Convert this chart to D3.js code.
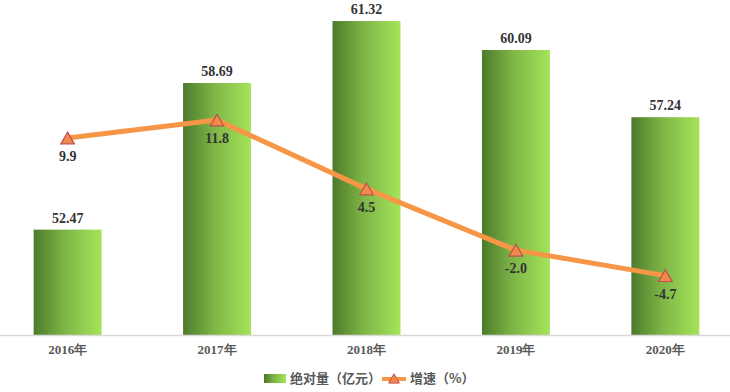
<!DOCTYPE html>
<html><head><meta charset="utf-8">
<script src="https://cdn.jsdelivr.net/npm/d3@7"></script>
<style>body{margin:0;background:#fff}svg{display:block}</style>
</head><body>
<svg id="c" width="730" height="392"></svg>
<script>
const years = ["2016年","2017年","2018年","2019年","2020年"];
const amount = [52.47, 58.69, 61.32, 60.09, 57.24];
const growth = [9.9, 11.8, 4.5, -2.0, -4.7];
const legendLabels = ["绝对量（亿元）","增速（%）"];

(function(){
const svg = d3.select("#c");
const W = 730, plotTop = 5, plotBottom = 335;
const x = d3.scaleBand().domain(years).range([-7, 740]).paddingInner(0.545).paddingOuter(0.272);
const y = d3.scaleLinear().domain([48, 62]).range([plotBottom, plotTop]);
const y2 = d3.scaleLinear().domain([-11, 24]).range([plotBottom, plotTop]);

const defs = svg.append("defs");
const g = defs.append("linearGradient").attr("id","bg").attr("x1","0").attr("x2","1").attr("y1","0").attr("y2","0");
g.append("stop").attr("offset","0%").attr("stop-color","#4d7a2b");
g.append("stop").attr("offset","45%").attr("stop-color","#7db546");
g.append("stop").attr("offset","100%").attr("stop-color","#a5e45a");

svg.selectAll("rect.bar").data(amount).join("rect").attr("class","bar")
  .attr("x",(d,i)=>x(years[i])).attr("width",x.bandwidth())
  .attr("y",d=>y(d)).attr("height",d=>plotBottom-y(d)).attr("fill","url(#bg)");

svg.append("line").attr("x1",0).attr("x2",W).attr("y1",plotBottom+0.5).attr("y2",plotBottom+0.5)
  .attr("stroke","#d9d9d9").attr("stroke-width",1.5);

const xa = svg.append("g").attr("transform",`translate(0,${plotBottom})`)
  .call(d3.axisBottom(x).tickSize(0).tickPadding(10));
xa.select(".domain").remove();
xa.selectAll("text").attr("font-family","'Liberation Serif','Times New Roman',serif")
  .attr("font-size",13).attr("font-weight","bold").attr("fill","#595959");

svg.selectAll("text.bl").data(amount).join("text").attr("class","bl")
  .attr("x",(d,i)=>x(years[i])+x.bandwidth()/2).attr("y",d=>y(d)-7)
  .attr("text-anchor","middle").attr("font-family","'Liberation Serif','Times New Roman',serif")
  .attr("font-size",14).attr("font-weight","bold").attr("fill","#333")
  .text(d=>d.toFixed(2));

const cx = (i)=>x(years[i])+x.bandwidth()/2;
const line = d3.line().x((d,i)=>cx(i)).y(d=>y2(d));
svg.append("path").datum(growth).attr("d",line).attr("fill","none")
  .attr("stroke","#f79646").attr("stroke-width",5).attr("stroke-linejoin","round");

const tri = d3.symbol().type(d3.symbolTriangle).size(80);
svg.selectAll("path.m").data(growth).join("path").attr("class","m")
  .attr("transform",(d,i)=>`translate(${cx(i)},${y2(d)+2})`).attr("d",tri)
  .attr("fill","#f08a4b").attr("stroke","#c0504d").attr("stroke-width",1.2);

svg.selectAll("text.gl").data(growth).join("text").attr("class","gl")
  .attr("x",(d,i)=>cx(i)).attr("y",d=>y2(d)+23)
  .attr("text-anchor","middle").attr("font-family","'Liberation Serif','Times New Roman',serif")
  .attr("font-size",14).attr("font-weight","bold").attr("fill","#333")
  .text(d=>d.toFixed(1));

const lg = svg.append("g");
lg.append("rect").attr("x",264).attr("y",374).attr("width",22).attr("height",9).attr("fill","url(#bg)");
lg.append("text").attr("x",290).attr("y",383).text(legendLabels[0])
  .attr("font-family","'Noto Sans CJK SC',sans-serif").attr("font-size",13).attr("font-weight","bold").attr("fill","#595959");
lg.append("line").attr("x1",382).attr("x2",406).attr("y1",379).attr("y2",379)
  .attr("stroke","#f79646").attr("stroke-width",4);
lg.append("path").attr("transform","translate(394,380)").attr("d",d3.symbol().type(d3.symbolTriangle).size(50))
  .attr("fill","#f08a4b").attr("stroke","#c0504d").attr("stroke-width",1);
lg.append("text").attr("x",410).attr("y",383).text(legendLabels[1])
  .attr("font-family","'Noto Sans CJK SC',sans-serif").attr("font-size",13).attr("font-weight","bold").attr("fill","#595959");
})();
</script>
</body></html>
